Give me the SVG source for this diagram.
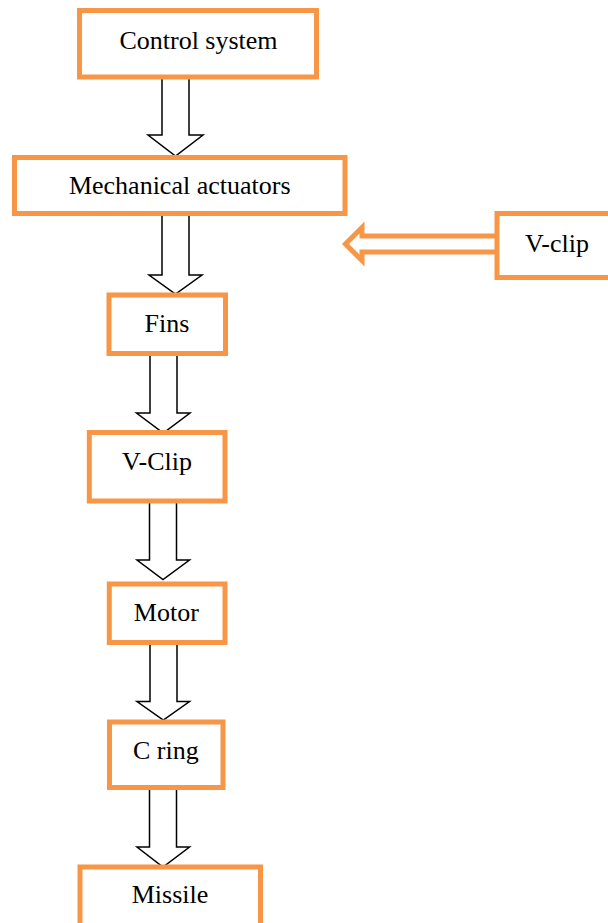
<svg xmlns="http://www.w3.org/2000/svg" width="608" height="923" viewBox="0 0 608 923">
<style>
.box{fill:#fff;stroke:#F79646;stroke-width:5}
.lbl{font-size:26px;fill:#000;text-anchor:middle}
.arr{fill:#fff;stroke:#000;stroke-width:1.5;stroke-linejoin:miter}
.oarr{fill:#fff;stroke:#F79646;stroke-width:5;stroke-linejoin:miter}
</style>
<rect width="608" height="923" fill="#fff"/>
<g id="connectors">
<polygon class="arr" points="162,77 189,77 189,135 203,135 175.5,156 148,135 162,135"/>
<polygon class="arr" points="162,213.5 189,213.5 189,275 202,275 175.5,294 149,275 162,275"/>
<polygon class="arr" points="150,353.5 177,353.5 177,413 190,413 163.3,433 136.5,413 150,413"/>
<polygon class="arr" points="149.5,501 176.5,501 176.5,560 189.5,560 163,579.5 137,560 149.5,560"/>
<polygon class="arr" points="150,642.5 177,642.5 177,701.5 189.5,701.5 163.3,720 137,701.5 150,701.5"/>
<polygon class="arr" points="149.5,787.5 176.5,787.5 176.5,847 189.5,847 163,867 137,847 149.5,847"/>
<path class="oarr" d="M497,236 L362,236 L362,227.5 L345.5,244 L362,260.5 L362,252 L497,252"/>
</g>
<g font-family="'Liberation Serif', 'DejaVu Serif', serif">
<g id="control-system"><rect class="box" x="79.5" y="10.5" width="237" height="66.5"/><text class="lbl" x="198.5" y="48.5">Control system</text></g>
<g id="mechanical-actuators"><rect class="box" x="14.5" y="157.5" width="330.5" height="56"/><text class="lbl" x="179.7" y="194.3">Mechanical actuators</text></g>
<g id="v-clip-side"><rect class="box" x="497" y="213.5" width="120" height="64"/><text class="lbl" x="557" y="251.7">V-clip</text></g>
<g id="fins"><rect class="box" x="109" y="295" width="116.5" height="58.5"/><text class="lbl" x="167" y="331.7">Fins</text></g>
<g id="v-clip"><rect class="box" x="89.3" y="432.5" width="135.7" height="68.5"/><text class="lbl" x="157" y="470">V-Clip</text></g>
<g id="motor"><rect class="box" x="109.3" y="584" width="115.7" height="58.5"/><text class="lbl" x="166.3" y="620.7">Motor</text></g>
<g id="c-ring"><rect class="box" x="109.5" y="722" width="113.5" height="65.5"/><text class="lbl" x="165.8" y="759">C ring</text></g>
<g id="missile"><rect class="box" x="80" y="867" width="180.5" height="70"/><text class="lbl" x="170" y="903.3">Missile</text></g>
</g>
</svg>
